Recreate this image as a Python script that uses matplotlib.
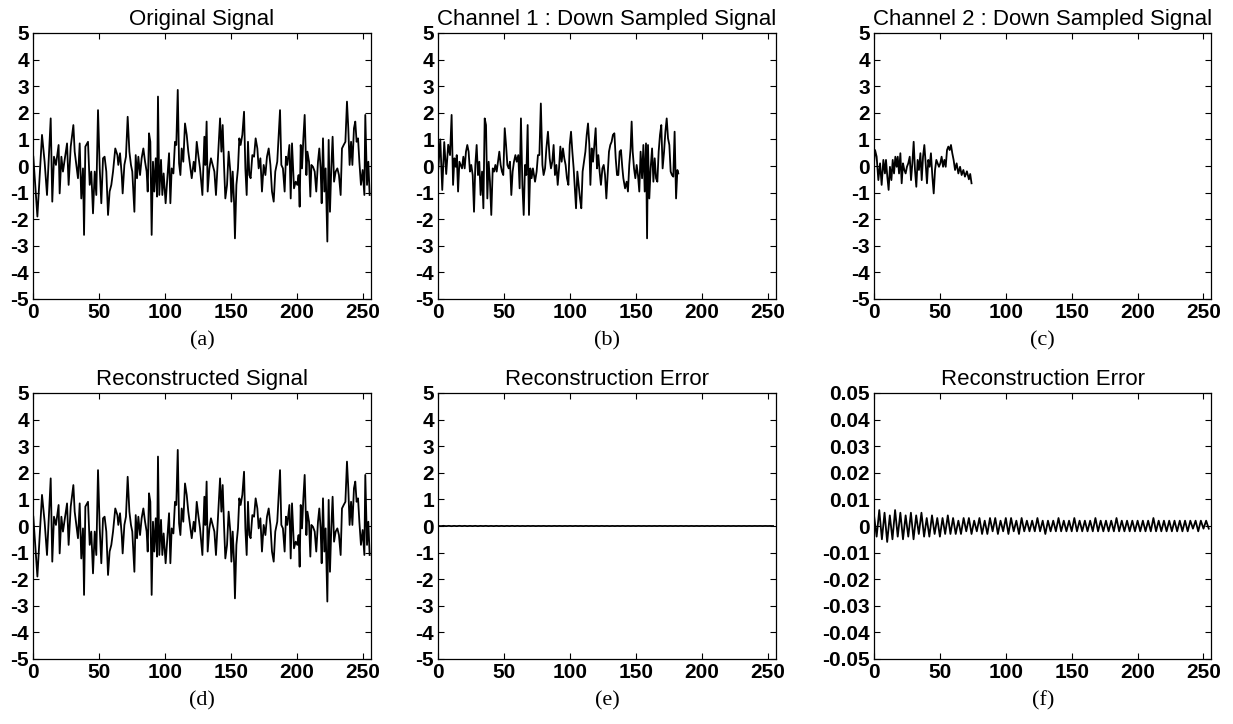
import numpy as np
import matplotlib
matplotlib.use("Agg")
from matplotlib import pyplot as plt

# original signal (sample index, amplitude); panel (d) is identical
orig_t = [0, 3.1, 6.6, 8.6, 10.4, 13.2, 14.4, 15.7, 17.2, 19.2, 20, 21.3, 22.5, 23.8, 25.6, 26.8, 28.4, 30.4, 31.4, 33.9,
          35.2, 36.4, 37.7, 38.5, 39.5, 41.5, 42.8, 44, 45.3, 46.6, 47.8, 49.1, 50.4, 51.6, 52.9, 54.1, 55.4, 56.7, 57.9, 59.2,
          60.5, 62.2, 63.8, 64.5, 65.8, 67.1, 67.8, 69.1, 70.3, 71.6, 72.9, 74.1, 75.1, 76.7, 77.7, 78.7, 79.7, 81, 82.2, 83.5,
          84.8, 86, 86.8, 87.8, 88.8, 89.8, 90.8, 91.8, 92.9, 93.9, 94.6, 95.6, 96.9, 97.9, 98.9, 100.4, 101.7, 103, 104, 105,
          106.3, 107.5, 108.5, 109.6, 110.6, 111.6, 112.6, 113.8, 115.1, 116.4, 117.6, 118.9, 120.2, 121.7, 122.7, 124, 125.2, 126.5, 128.3, 129.8,
          130.5, 131.5, 132.3, 133.6, 134.8, 136.1, 137.4, 138.6, 140.1, 141.7, 142.7, 143.7, 144.7, 145.7, 147, 148.2, 149.5, 150.3, 151.3, 152.3,
          153, 154.1, 155.3, 156.3, 157.3, 158.6, 159.9, 160.9, 161.9, 162.9, 163.9, 164.9, 166.2, 167.5, 168.7, 170, 171, 172.3, 173.5, 174.8,
          176.1, 177.3, 178.6, 179.9, 181.1, 182.4, 183.6, 185.1, 186.2, 187.2, 188.2, 189.4, 190.7, 191.7, 192.7, 194.3, 195.3, 196.3, 197.8, 199.1,
          200.3, 201.3, 202.1, 202.9, 203.9, 204.9, 205.9, 207.2, 208, 209.2, 210.2, 211, 212.2, 213.5, 214.7, 216, 217, 218, 218.8, 219.8,
          220.8, 221.8, 223.1, 224.1, 225.1, 226.1, 227.1, 228.2, 229.4, 230.7, 231.9, 233.2, 234.2, 235.5, 236.8, 238, 239, 240, 241.1, 242.1,
          243.3, 244.3, 245.3, 246.4, 247.4, 248.6, 249.9, 251.2, 251.9, 253.2, 254.2, 255.2]
orig_v = [0.35, -1.9, 1.17, 0.15, -1.09, 1.79, -1.34, 0.35, 0.04, 0.79, -1.03, 0.35, -0.21, 0.23, 0.85, -0.71, 0.73, 1.54, 0.54, -0.46,
          0.85, -1.22, -0.09, -2.59, 0.73, 0.91, -0.71, -0.21, -1.78, -0.21, -1.09, 2.1, -0.09, -1.4, 0.29, 0.35, -0.21, -1.84, -0.96, -0.71,
          -0.21, 0.66, 0.41, 0.04, 0.48, -0.34, -1.03, 0.04, 0.35, 1.85, 0.54, 0.04, -0.21, -1.72, 0.41, -0.46, 0.35, -0.34, 0.29, 0.66,
          0.16, -0.21, -0.96, 1.23, 0.91, -2.59, 0.16, -0.96, 0.29, -1.15, 2.61, -1.09, 0.23, -1.09, -0.28, -1.4, -0.46, 0.48, -1.4, -0.09,
          -0.28, 0.91, 0.79, 2.86, 0.1, -0.34, 0.66, 0.16, 1.6, 1.17, 0.54, 0.04, -0.46, 0.16, -0.21, 0.91, 0.41, -0.09, -1.09, 1.1,
          0.04, 1.67, -0.96, -0.09, 0.29, 0.04, -0.21, -1.09, 0.29, 1.79, 0.54, 1.54, 0.04, -1.22, -0.71, 0.54, -0.21, -1.34, -0.21, -1.34,
          -2.72, -0.71, -0.09, 1.04, 0.79, 1.17, 2.04, -0.09, -1.09, 0.91, -0.34, -0.46, 0.41, 0.35, 1.04, 0.66, -0.09, 0.29, -0.96, 0.04,
          -0.34, 0.35, 0.66, 0.04, -0.96, -1.34, -0.21, 0.16, 1.17, 2.1, 0.04, -0.09, -0.96, 0.35, 0.04, 0.79, -1.22, 0.85, -0.84, -0.59,
          -0.71, -0.34, -1.53, 0.79, -0.09, 1.04, 1.92, -0.34, 0.54, 0.16, -1.15, 0.04, -0.03, -0.21, -0.96, 0.16, 0.66, -0.09, -1.4, 1.04,
          -0.96, -0.09, -2.84, 0.98, -1.72, -0.09, 1.1, -0.59, -0.21, -0.09, -0.34, -1.09, 0.66, 0.79, 0.91, 2.42, 1.42, 0.04, 0.91, 0.04,
          1.42, 1.67, 0.91, 1.04, 0.16, -0.71, -0.15, -1.09, 1.92, -0.71, 0.16, -1.09]

# channel 1 down sampled signal, panel (b)
ch1_t = [0, 1.5, 3, 4.5, 6, 7.5, 8.9, 10.1, 11.2, 12.2, 13.2, 14, 15, 16, 17, 18, 19, 20, 21, 22,
         23, 24, 25, 26.1, 27.1, 28.1, 29.1, 30.1, 31.1, 32.1, 33.2, 34.2, 35.2, 36.2, 37.2, 38.2, 39.2, 40.2, 41.3, 42.3,
         43.3, 44.3, 45.3, 46.3, 47.3, 48.3, 49.3, 50.4, 51.4, 52.4, 53.4, 54.4, 55.4, 56.4, 57.4, 58.5, 59.5, 60.7, 61.7, 62.7,
         63.8, 64.8, 65.8, 66.8, 67.8, 68.8, 69.8, 70.8, 71.8, 73.4, 74.6, 75.6, 76.7, 77.8, 79, 79.9, 81, 82, 83.2, 84.5,
         85.5, 86.5, 87.5, 88.5, 89.6, 90.6, 91.6, 92.6, 93.6, 94.6, 95.6, 96.6, 97.6, 98.7, 99.7, 100.7, 101.7, 102.7, 103.7, 104.5,
         105.5, 106.5, 107.5, 108.5, 109.5, 110.5, 111.6, 112.6, 113.6, 114.6, 115.4, 116.4, 117.4, 118.4, 119.4, 120.4, 121.4, 122.4, 123.4, 124.5,
         125.5, 126.5, 127.5, 128.5, 129.5, 130.5, 131.5, 132.5, 133.6, 134.6, 135.6, 136.6, 137.6, 138.6, 139.6, 140.4, 141.7, 142.9, 143.9, 144.9,
         145.9, 146.7, 147.5, 148.5, 149.5, 150.5, 151.5, 152.5, 153.5, 154.6, 155.6, 156.6, 157.6, 158.4, 159.1, 160.1, 161.1, 162.2, 163.2, 164.2,
         165.2, 166.2, 167.2, 168.2, 169.2, 170.2, 171.3, 172.3, 173.3, 174.3, 175.3, 176.3, 177.3, 178.3, 179.3, 180.4, 181.4, 182.1]
ch1_v = [-0.1, 1.0, -0.9, 0.9, -0.3, 0.8, 0.41, 1.92, -0.71, 0.29, -0.03, 0.41, -0.96, 0.16, 0.04, -0.09, 0.35, -0.09, 0.54, 0.79,
         0.54, -0.21, 0.04, -0.34, -1.72, 0.04, 0.79, -0.34, 0.16, -1.09, -0.21, -1.59, 1.79, 1.54, -1.22, 0.16, -0.59, -1.84, -0.09, -0.21,
         0.04, -0.21, 0.16, 0.54, 0.04, -0.21, -0.34, 1.42, 0.79, 0.04, -0.09, 0.16, -1.09, -0.21, 0.16, 0.41, 0.16, 0.41, -0.84, 1.79,
         -0.71, -1.84, 0.04, -0.34, 1.54, -1.84, -0.09, -0.46, -0.09, -0.59, -0.21, 0.41, 0.41, 2.35, 0.04, -0.34, -0.09, 0.66, 1.29, 0.29,
         -0.09, 0.16, 0.79, -0.34, 0.04, -0.71, -0.09, 0.73, 0.16, 0.66, 0.29, 0.04, -0.46, -0.71, 0.79, 1.29, 0.54, -0.09, -0.96, -1.59,
         -0.21, -0.71, -1.22, -1.59, -0.21, 0.16, 0.54, 1.17, 1.6, 0.79, -0.71, 0.66, 0.16, 0.79, 1.42, -0.09, 0.41, -0.21, -0.71, -0.09,
         0.04, -0.34, -1.22, -0.34, 0.54, 0.79, 0.91, 1.17, 1.23, 0.29, -0.34, -0.34, 0.54, 0.6, -0.05, -0.46, -0.84, -0.59, -0.96, 0.04,
         0.66, 1.67, 0.54, -0.09, -0.46, 0.04, -0.34, -0.96, 0.54, -0.46, 0.79, -0.96, 0.85, -2.72, 0.79, -1.22, -0.09, 0.66, -0.59, 0.29,
         -0.46, -0.59, 0.54, 1.17, 1.54, -0.09, 0.54, 1.29, 1.79, 1.04, 0.79, -0.21, -0.34, -0.4, 1.29, -1.22, -0.15, -0.28]

# channel 2 down sampled signal, panel (c)
ch2_t = [0, 0.8, 2, 3.3, 4.6, 5.8, 7.1, 8.3, 9.1, 10.1, 11.1, 12.1, 13.2, 14.2, 15.2, 16.2, 17.2, 18, 19, 20,
         21, 22, 23, 24, 25, 26, 27.1, 28.1, 29.1, 30.1, 31.1, 32.1, 33.1, 34.1, 35.2, 36.2, 37.2, 38.2, 39.2, 40.2,
         41.2, 42.2, 43.2, 44.3, 45.3, 46.3, 47.3, 48.3, 49.3, 50.3, 51.3, 52.4, 53.4, 54.4, 55.4, 56.4, 57.4, 58.4, 59.4, 60.4,
         61.5, 62.7, 64, 65.3, 66.5, 67.8, 69, 70.5, 72, 73, 74]
ch2_v = [0.1, 0.6, 0.35, -0.53, 0.1, -0.71, 0.23, -0.28, 0.23, -0.4, -0.9, -0.03, -0.53, 0.23, -0.28, 0.35, -0.03, 0.35, -0.28, 0.48,
         -0.65, 0.1, -0.15, -0.28, -0.03, 0.1, 0.35, -0.53, 0.1, 0.91, -0.15, -0.78, 0.23, -0.15, 0.48, -0.53, 0.35, 0.79, 0.1, -0.65,
         0.23, -0.03, 0.48, -0.4, -1.03, -0.15, 0.23, 0.1, -0.03, 0.1, 0.35, -0.03, 0.23, -0.03, 0.6, 0.73, 0.6, 0.79, 0.48, 0.23,
         -0.15, 0.1, -0.28, -0.03, -0.34, -0.15, -0.4, -0.2, -0.5, -0.3, -0.65]

# reconstruction error, every second sample, panels (e) and (f)
err_t = list(range(0, 256, 2))
err_v = [0.004, -0.004, 0.006, -0.005, 0.005, -0.006, 0.004, -0.005, 0.006, -0.004, 0.005, -0.005, 0.004, -0.004, 0.005, -0.005, 0.004, -0.003, 0.005, -0.004,
         0.003, -0.004, 0.004, -0.003, 0.003, -0.004, 0.003, -0.003, 0.004, -0.003, 0.003, -0.003, 0.002, -0.003, 0.003, -0.002, 0.003, -0.003, 0.002, -0.002,
         0.003, -0.003, 0.002, -0.003, 0.003, -0.002, 0.003, -0.003, 0.002, -0.002, 0.003, -0.003, 0.003, -0.002, 0.002, -0.003, 0.003, -0.002, 0.002, -0.002,
         0.002, -0.002, 0.003, -0.002, 0.002, -0.003, 0.002, -0.002, 0.002, -0.002, 0.003, -0.002, 0.002, -0.002, 0.002, -0.002, 0.003, -0.002, 0.002, -0.002,
         0.002, -0.002, 0.002, -0.002, 0.003, -0.002, 0.002, -0.002, 0.002, -0.002, 0.002, -0.002, 0.003, -0.002, 0.002, -0.002, 0.002, -0.002, 0.002, -0.002,
         0.002, -0.002, 0.002, -0.002, 0.002, -0.002, 0.003, -0.002, 0.002, -0.002, 0.002, -0.002, 0.002, -0.002, 0.002, -0.002, 0.002, -0.002, 0.002, -0.002,
         0.002, -0.001, 0.002, -0.002, 0.002, -0.001, 0.002, -0.001]

x_ticks = [0, 50, 100, 150, 200, 250]
big_ticks = [-5, -4, -3, -2, -1, 0, 1, 2, 3, 4, 5]
small_ticks = [-0.05, -0.04, -0.03, -0.02, -0.01, 0, 0.01, 0.02, 0.03, 0.04, 0.05]
small_labels = ['-0.05', '-0.04', '-0.03', '-0.02', '-0.01', '0', '0.01', '0.02', '0.03', '0.04', '0.05']

W, H = 1233, 724
fig = plt.figure(figsize=(W / 100, H / 100), dpi=100)

col_left = [33.3, 438.3, 874.0]
ax_w = 337.4
row_top = [33.0, 393.0]
ax_h = 266.0

tick_font = dict(fontfamily='Liberation Sans', fontweight='bold', fontsize=15)


def make_axes(row, col):
    l = col_left[col] / W
    b = 1 - (row_top[row] + ax_h) / H
    ax = fig.add_axes([l, b, ax_w / W, ax_h / H])
    ax.set_xlim(0, 256)
    ax.set_xticks(x_ticks)
    ax.set_xticklabels([str(t) for t in x_ticks], **tick_font)
    ax.tick_params(direction='in', top=True, right=True, length=4, width=0.8, pad=3)
    for sp in ax.spines.values():
        sp.set_linewidth(0.9)
    return ax


title_kw = dict(fontfamily='Liberation Sans', fontsize=16, pad=6)

panels = [
    (0, 0, 'Original Signal', orig_t, orig_v, '(a)'),
    (0, 1, 'Channel 1 : Down Sampled Signal', ch1_t, ch1_v, '(b)'),
    (0, 2, 'Channel 2 : Down Sampled Signal', ch2_t, ch2_v, '(c)'),
    (1, 0, 'Reconstructed Signal', orig_t, orig_v, '(d)'),
    (1, 1, 'Reconstruction Error', err_t, err_v, '(e)'),
    (1, 2, 'Reconstruction Error', err_t, err_v, '(f)'),
]

for row, col, title, t, v, tag in panels:
    ax = make_axes(row, col)
    ax.plot(t, v, color='black', linewidth=1.3)
    if tag == '(f)':
        # same error as (e), on a zoomed scale
        ax.set_ylim(-0.05, 0.05)
        ax.set_yticks(small_ticks)
        ax.set_yticklabels(small_labels, **tick_font)
    else:
        ax.set_ylim(-5, 5)
        ax.set_yticks(big_ticks)
        ax.set_yticklabels([str(t) for t in big_ticks], **tick_font)
    ax.set_title(title, **title_kw)
    fig.text((col_left[col] + ax_w / 2) / W, 1 - (row_top[row] + ax_h + 42) / H, tag,
             fontfamily='Liberation Serif', fontsize=16, ha='center', va='center')

plt.savefig('out.png', dpi=100)
